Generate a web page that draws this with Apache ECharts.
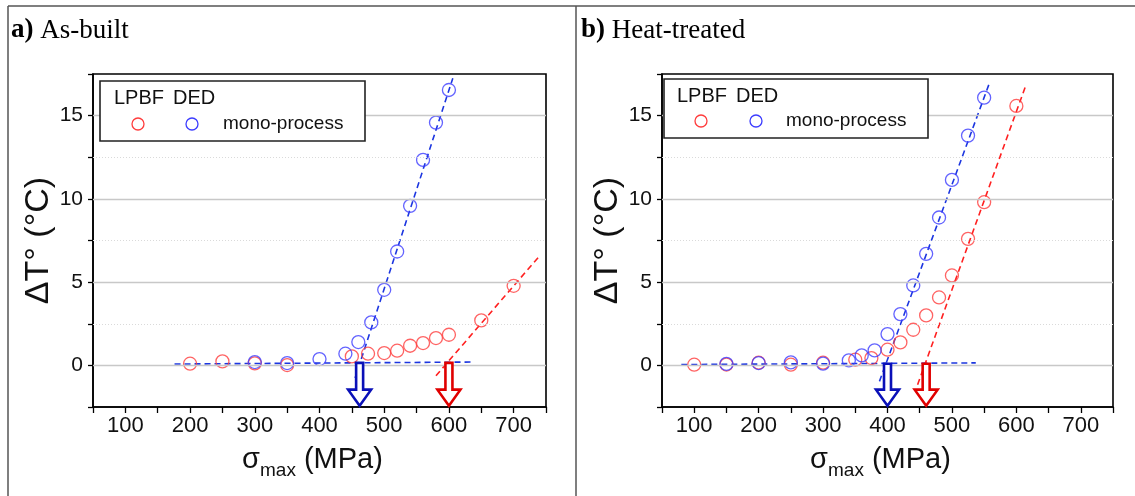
<!DOCTYPE html>
<html>
<head>
<meta charset="utf-8">
<script src="https://cdn.jsdelivr.net/npm/echarts@6/dist/echarts.min.js"></script>
<style>
html,body{margin:0;padding:0;background:#fff;}
#chart{width:1135px;height:496px;}
</style>
</head>
<body>
<div id="chart"></div>
<script>
// ---- data ----
const panelTitles = [['a)', ' As-built'], ['b)', ' Heat-treated']];
const legendTexts = ['LPBF', 'DED', 'mono-process'];
const xTickLabels = [100, 200, 300, 400, 500, 600, 700];
const yTickLabels = [0, 5, 10, 15];
const yMajorGrid = [0, 5, 10, 15];
const yMinorGrid = [2.5, 7.5, 12.5];

// a) As-built
const aLpbfX = [200, 250, 300, 350, 450, 475, 500, 520, 540, 560, 580, 600, 650, 700];
const aLpbfY = [0.1, 0.24, 0.12, 0.02, 0.54, 0.7, 0.74, 0.88, 1.18, 1.34, 1.64, 1.84, 2.7, 4.78];
const aDedX = [300, 350, 400, 440, 460, 480, 500, 520, 540, 560, 580, 600];
const aDedY = [0.2, 0.14, 0.38, 0.7, 1.4, 2.58, 4.54, 6.84, 9.58, 12.34, 14.58, 16.54];
const aDedFlatFit = [[176, 0.08], [634, 0.2]];
const aDedSteepFit = [[455, -0.76], [606, 17.24]];
const aLpbfSteepFit = [[580, -0.62], [738, 6.48]];
const aArrowDed = [462, 0.15, -2.42];
const aArrowLpbf = [600, 0.15, -2.42];

// b) Heat-treated
const bLpbfX = [100, 150, 200, 250, 300, 350, 375, 400, 420, 440, 460, 480, 500, 525, 550, 600];
const bLpbfY = [0.04, 0.05, 0.16, 0.04, 0.16, 0.34, 0.44, 0.94, 1.38, 2.14, 3.0, 4.08, 5.4, 7.6, 9.8, 15.58];
const bDedX = [150, 200, 250, 300, 340, 360, 380, 400, 420, 440, 460, 480, 500, 525, 550];
const bDedY = [0.09, 0.14, 0.18, 0.1, 0.3, 0.6, 0.9, 1.88, 3.08, 4.8, 6.7, 8.88, 11.14, 13.8, 16.08];
const bDedFlatFit = [[80, 0.05], [537, 0.15]];
const bDedSteepFit = [[387.5, -0.96], [559, 17.04]];
const bLpbfSteepFit = [[446.7, -1.16], [614, 16.74]];
const bArrowDed = [400, 0.1, -2.42];
const bArrowLpbf = [460, 0.1, -2.42];

// ---- styles ----
const RED = '#ff3c3c', BLUE = '#3c3cff';
const RED_LINE = '#ff2020', BLUE_LINE = '#1c36e0';
const RED_ARROW = '#e00000', BLUE_ARROW = '#0a10b8';
const SANS = '"Liberation Sans", Arial, sans-serif';
const SERIF = '"Liberation Serif", "Times New Roman", serif';

const zip = (xs, ys) => xs.map((x, i) => [x, ys[i]]);

const chart = echarts.init(document.getElementById('chart'), null, {renderer: 'canvas'});

const grids = [
  {left: 93, top: 74, width: 453, height: 333},
  {left: 662, top: 74, width: 451, height: 333}
];

function xAxisCfg(i) {
  return {
    type: 'value', gridIndex: i, min: 50, max: 750, interval: 50,
    name: '{s|σ}{sub|max}{s| (MPa)}', nameLocation: 'middle', nameGap: 33,
    nameTextStyle: {
      padding: [0, 14, 0, 0],
      rich: {
        s: {fontFamily: SANS, fontSize: 29, color: '#111'},
        sub: {fontFamily: SANS, fontSize: 19, color: '#111', padding: [21, 0, 0, 0]}
      }
    },
    axisLine: {show: true, onZero: false, lineStyle: {color: '#000', width: 1.6}},
    axisTick: {show: true, length: 6, lineStyle: {color: '#000', width: 1.3}},
    axisLabel: {
      margin: 8, fontFamily: SANS, fontSize: 22, color: '#111',
      formatter: v => xTickLabels.indexOf(v) >= 0 ? String(v) : ''
    },
    splitLine: {show: false}
  };
}
function yAxisCfg(i) {
  return {
    type: 'value', gridIndex: i, min: -2.5, max: 17.5, interval: 2.5,
    name: 'ΔT° (°C)', nameLocation: 'middle', nameGap: 27, nameRotate: 90,
    nameTextStyle: {fontFamily: SANS, fontSize: 34, color: '#111'},
    axisLine: {show: true, onZero: false, lineStyle: {color: '#000', width: 1.6}},
    axisTick: {show: true, length: 5, lineStyle: {color: '#000', width: 1.3}},
    axisLabel: {
      margin: 10, fontFamily: SANS, fontSize: 21, color: '#111',
      formatter: v => yTickLabels.indexOf(v) >= 0 ? String(v) : ''
    },
    splitLine: {show: false}
  };
}

function arrowSeries(i, arr, color) {
  return {
    type: 'custom', xAxisIndex: i, yAxisIndex: i, z: 5,
    data: [arr],
    renderItem: (params, api) => {
      const top = api.coord([api.value(0), api.value(1)]);
      const bot = api.coord([api.value(0), api.value(2)]);
      const cx = top[0], hs = 3.5, hw = 11.5, hh = 16;
      const pts = [
        [cx - hs, top[1]], [cx + hs, top[1]], [cx + hs, bot[1] - hh], [cx + hw, bot[1] - hh],
        [cx, bot[1]], [cx - hw, bot[1] - hh], [cx - hs, bot[1] - hh]
      ];
      return {type: 'polygon', shape: {points: pts},
        style: {fill: '#fff', stroke: color, lineWidth: 2.6, lineJoin: 'miter'}};
    }
  };
}
function gridLines(i) {
  return {
    type: 'line', xAxisIndex: i, yAxisIndex: i, data: [], silent: true, z: 1,
    markLine: {
      silent: true, symbol: 'none', label: {show: false}, animation: false,
      data: yMajorGrid.map(v => ({yAxis: v, lineStyle: {color: '#c8c8c8', width: 1.3, type: 'solid'}}))
        .concat(yMinorGrid.map(v => ({yAxis: v, lineStyle: {color: '#dadada', width: 1, type: [1, 2]}})))
    }
  };
}
function fitLine(i, data, color) {
  return {type: 'line', xAxisIndex: i, yAxisIndex: i, data: data, symbol: 'none', z: 3,
    lineStyle: {color: color, width: 1.6, type: [6, 4]}};
}
function scatter(i, data, color) {
  return {type: 'scatter', xAxisIndex: i, yAxisIndex: i, data: data, symbol: 'circle', symbolSize: 13, z: 4,
    itemStyle: {color: 'rgba(0,0,0,0)', borderColor: color, borderWidth: 1.3}};
}

function legendGraphic(box, tx) {
  return [
    {type: 'rect', z: 100, shape: {x: box[0], y: box[1], width: box[2], height: box[3]},
      style: {fill: '#fff', stroke: '#222', lineWidth: 1.6}},
    {type: 'text', z: 101, x: tx[0], y: tx[1], style: {text: legendTexts[0], fontFamily: SANS, fontSize: 20, fill: '#111', textVerticalAlign: 'middle'}},
    {type: 'text', z: 101, x: tx[2], y: tx[1], style: {text: legendTexts[1], fontFamily: SANS, fontSize: 20, fill: '#111', textVerticalAlign: 'middle'}},
    {type: 'circle', z: 101, shape: {cx: tx[3], cy: tx[4], r: 6}, style: {fill: 'none', stroke: RED, lineWidth: 1.3}},
    {type: 'circle', z: 101, shape: {cx: tx[5], cy: tx[4], r: 6}, style: {fill: 'none', stroke: BLUE, lineWidth: 1.3}},
    {type: 'text', z: 101, x: tx[6], y: tx[4], style: {text: legendTexts[2], fontFamily: SANS, fontSize: 19, fill: '#111', textVerticalAlign: 'middle'}}
  ];
}

const titleGraphic = (x, t) => ({
  type: 'text', x: x, y: 44, z: 100,
  style: {text: '{b|' + t[0] + '}{r|' + t[1] + '}', textVerticalAlign: 'bottom',
    rich: {b: {fontFamily: SERIF, fontSize: 27, fontWeight: 'bold', fill: '#000'},
           r: {fontFamily: SERIF, fontSize: 27, fill: '#000'}}}
});

const option = {
  animation: false,
  backgroundColor: '#fff',
  grid: grids.map(g => Object.assign({show: true, borderColor: '#000', borderWidth: 1.6, backgroundColor: 'transparent'}, g)),
  xAxis: [xAxisCfg(0), xAxisCfg(1)],
  yAxis: [yAxisCfg(0), yAxisCfg(1)],
  series: [
    gridLines(0), gridLines(1),
    fitLine(0, aDedFlatFit, BLUE_LINE), fitLine(0, aDedSteepFit, BLUE_LINE), fitLine(0, aLpbfSteepFit, RED_LINE),
    fitLine(1, bDedFlatFit, BLUE_LINE), fitLine(1, bDedSteepFit, BLUE_LINE), fitLine(1, bLpbfSteepFit, RED_LINE),
    scatter(0, zip(aLpbfX, aLpbfY), RED), scatter(0, zip(aDedX, aDedY), BLUE),
    scatter(1, zip(bLpbfX, bLpbfY), RED), scatter(1, zip(bDedX, bDedY), BLUE),
    arrowSeries(0, aArrowDed, BLUE_ARROW), arrowSeries(0, aArrowLpbf, RED_ARROW),
    arrowSeries(1, bArrowDed, BLUE_ARROW), arrowSeries(1, bArrowLpbf, RED_ARROW)
  ],
  graphic: [
    {type: 'line', z: 100, shape: {x1: 8, y1: 6, x2: 1135, y2: 6}, style: {stroke: '#555', lineWidth: 1.5}},
    {type: 'line', z: 100, shape: {x1: 8, y1: 6, x2: 8, y2: 496}, style: {stroke: '#555', lineWidth: 1.5}},
    {type: 'line', z: 100, shape: {x1: 576, y1: 6, x2: 576, y2: 496}, style: {stroke: '#555', lineWidth: 1.5}},
    titleGraphic(11, panelTitles[0]),
    titleGraphic(581, panelTitles[1])
  ].concat(legendGraphic([100, 81, 265, 60], [114, 98, 173, 138, 124, 192, 223]))
   .concat(legendGraphic([664, 79, 264, 59], [677, 96, 736, 701, 121, 756, 786]))
};
chart.setOption(option);
</script>
</body>
</html>
